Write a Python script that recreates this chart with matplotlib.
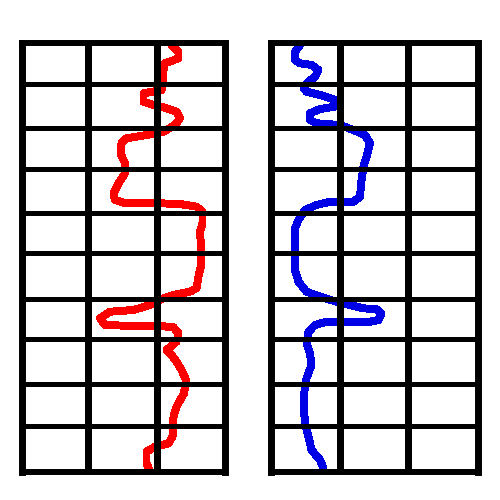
import matplotlib
matplotlib.use("Agg")
import matplotlib.pyplot as plt

# DATA (value along the track, depth from top)
RED_VALUE = [150, 157, 157, 143.5, 142, 142, 140, 122, 122, 132, 142, 155, 158.5, 153.5,
             142, 125, 105, 100, 99, 103.5, 103.5, 97, 92, 93.5, 102, 138.5, 158.5, 175,
             181, 181, 178.5, 179.5, 180, 177, 175, 168.5, 152, 142, 128.5, 112, 88.5, 78.5,
             83.5, 112, 138.5, 152, 157, 155, 145, 150, 155, 160, 164.5, 162.5, 155, 152,
             151, 147, 133.5, 125, 125, 128]
RED_DEPTH = [2, 8.7, 15.3, 20.3, 27, 37, 47, 50.3, 58.7, 62, 64.3, 68.7, 75.3, 82,
             88.7, 92, 95.3, 100.3, 110.3, 120.3, 130.3, 140.3, 150.3, 157, 159.7, 160.3, 161, 163.7,
             168.7, 180.3, 188.7, 203.7, 220.3, 233.7, 245.3, 248.7, 252, 255.3, 262, 267, 268.7, 275.3,
             282, 283, 283, 284.3, 290.3, 298.7, 307, 312, 318.7, 327, 337, 350.3, 363.7, 373.7,
             393.7, 400.3, 403.7, 408.7, 420.3, 427]

BLUE_VALUE = [29.5, 24.5, 24.5, 29.5, 41, 48, 44.5, 38, 33, 36, 49.5, 63, 64.5, 49.5, 39.5,
              39.5, 46, 69.5, 83, 94.5, 99.5, 96, 93, 91, 89.5, 83, 59.5, 46, 34.5, 28, 24.5,
              24.5, 24.5, 28, 36, 49.5, 66, 79.5, 93, 106, 111, 108, 99.5, 73, 56, 44.5, 38,
              36, 39.5, 41, 36, 34, 33.5, 34.5, 38, 41, 49.5, 53]
BLUE_DEPTH = [2, 8.7, 17, 20.3, 22, 27, 33.7, 38.7, 45.3, 48.7, 52, 56.3, 63.7, 66, 70.3,
              77, 80.3, 82, 87, 92, 100.3, 113.7, 123.7, 137, 153.7, 158.7, 158.7, 162, 167, 177, 185.3,
              217, 227, 238.7, 248.7, 253.7, 258.7, 262, 265.3, 266.3, 270.3, 277, 278.7, 278.7, 278.7, 282, 288.7,
              300.3, 310.3, 322, 335.3, 347, 367, 380.3, 393.7, 407, 417, 425.3]

DEPTH_TICKS = [41, 85, 126, 170, 210, 256, 296, 341, 383]
VALUE_TICKS = [67, 136]
DEPTH_MAX = 429


def track(fig, rect, value, depth, color, xmax, xticks):
    ax = fig.add_axes(rect)
    ax.plot(value, depth, color=color, lw=5, solid_capstyle='round',
            solid_joinstyle='round', antialiased=False, zorder=1)
    ax.set_xlim(0, xmax)
    ax.set_ylim(DEPTH_MAX, 0)
    ax.set_xticks(xticks)
    ax.set_yticks(DEPTH_TICKS)
    ax.tick_params(length=0, labelbottom=False, labelleft=False)
    ax.set_axisbelow(False)
    ax.xaxis.grid(True, color='black', lw=5, antialiased=False)
    ax.yaxis.grid(True, color='black', lw=3.6, antialiased=False)
    for side in ['left', 'right']:
        ax.spines[side].set_linewidth(5)
    for side in ['top', 'bottom']:
        ax.spines[side].set_linewidth(4.3)
    for sp in ax.spines.values():
        sp.set_zorder(3)
    return ax


fig = plt.figure(figsize=(5, 5), dpi=100)
track(fig, [0.043, 0.056, 0.408, 0.858], RED_VALUE, RED_DEPTH, '#ff0000', 204, VALUE_TICKS)
track(fig, [0.541, 0.056, 0.415, 0.858], BLUE_VALUE, BLUE_DEPTH, '#0000e6', 207.5, [69, 137])
fig.savefig('out.png', dpi=100, facecolor='white')
